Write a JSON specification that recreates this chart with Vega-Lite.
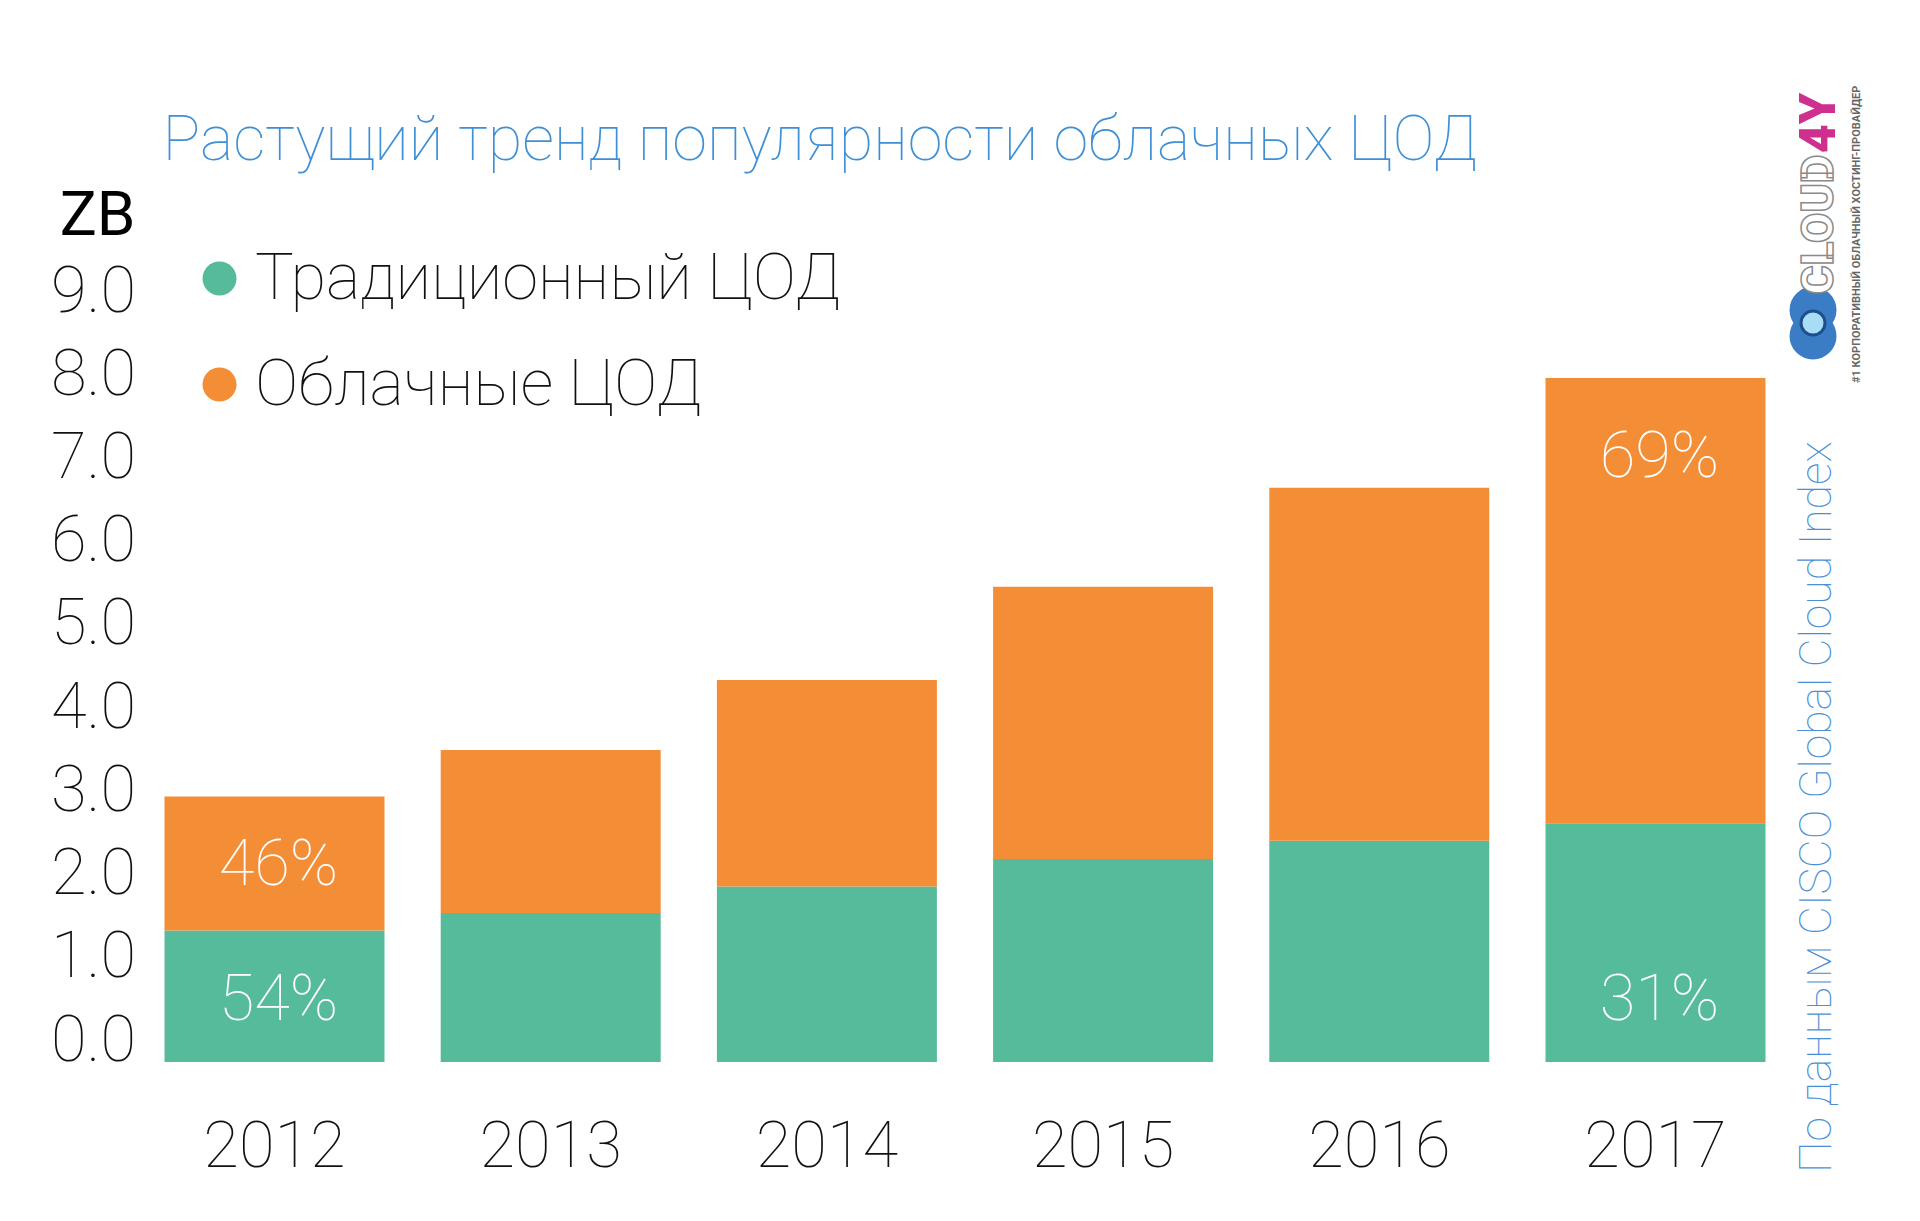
{
  "$schema": "https://vega.github.io/schema/vega-lite/v6.json",
  "width": 1601,
  "height": 749,
  "autosize": {"type": "none"},
  "padding": {"left": 164.5, "top": 313, "right": 154.5, "bottom": 159},
  "background": "white",
  "title": {
    "text": "Растущий тренд популярности облачных ЦОД",
    "anchor": "start",
    "frame": "group",
    "font": "Roboto",
    "fontSize": 63,
    "fontWeight": 100,
    "color": "#3f8fd6",
    "baseline": "alphabetic",
    "offset": 25,
    "dy": 162,
    "dx": -2
  },
  "config": {
    "view": {"stroke": null},
    "font": "Roboto",
    "axisY": {
      "labelFont": "Roboto",
      "labelFontSize": 65,
      "labelFontWeight": 100,
      "labelColor": "#111111",
      "labelPadding": 29,
      "labelOffset": -22,
      "ticks": false,
      "tickSize": 0,
      "domain": false,
      "grid": false,
      "titleAngle": 0,
      "titleFont": "Roboto",
      "titleFontSize": 62,
      "titleFontWeight": 400,
      "titleColor": "#000000",
      "titleAlign": "right",
      "titleBaseline": "alphabetic",
      "titleX": -29.5,
      "titleY": -79
    },
    "axisX": {
      "labelFont": "Roboto",
      "labelFontSize": 65,
      "labelFontWeight": 100,
      "labelColor": "#111111",
      "labelPadding": 53,
      "labelAngle": 0,
      "ticks": false,
      "tickSize": 0,
      "domain": false,
      "grid": false
    },
    "legend": {
      "orient": "none",
      "legendX": 22.5,
      "legendY": -67,
      "symbolType": "circle",
      "symbolSize": 1156,
      "symbolStrokeWidth": 0,
      "symbolOpacity": 1,
      "labelFont": "Roboto",
      "labelFontSize": 65,
      "labelFontWeight": 100,
      "labelColor": "#111111",
      "labelOffset": 3,
      "labelLimit": 1000,
      "rowPadding": 40,
      "padding": 0
    }
  },
  "datasets": {
    "bars": [
      {"year": "2012", "series": "Традиционный ЦОД", "zb": 1.58},
      {"year": "2012", "series": "Облачные ЦОД", "zb": 1.61},
      {"year": "2013", "series": "Традиционный ЦОД", "zb": 1.79},
      {"year": "2013", "series": "Облачные ЦОД", "zb": 1.96},
      {"year": "2014", "series": "Традиционный ЦОД", "zb": 2.11},
      {"year": "2014", "series": "Облачные ЦОД", "zb": 2.48},
      {"year": "2015", "series": "Традиционный ЦОД", "zb": 2.44},
      {"year": "2015", "series": "Облачные ЦОД", "zb": 3.27},
      {"year": "2016", "series": "Традиционный ЦОД", "zb": 2.66},
      {"year": "2016", "series": "Облачные ЦОД", "zb": 4.24},
      {"year": "2017", "series": "Традиционный ЦОД", "zb": 2.87},
      {"year": "2017", "series": "Облачные ЦОД", "zb": 5.35}
    ],
    "pct": [
      {"year": "2012", "label": "46%", "pos": 2.37},
      {"year": "2012", "label": "54%", "pos": 0.745},
      {"year": "2017", "label": "69%", "pos": 7.27},
      {"year": "2017", "label": "31%", "pos": 0.74}
    ],
    "source": [{"text": "По данным CISCO Global Cloud Index"}],
    "logo": [{"a": "CLOUD", "b": "4Y", "c": "#1 КОРПОРАТИВНЫЙ ОБЛАЧНЫЙ ХОСТИНГ-ПРОВАЙДЕР"}]
  },
  "layer": [
    {
      "data": {"name": "bars"},
      "mark": {"type": "bar"},
      "encoding": {
        "x": {
          "field": "year",
          "type": "nominal",
          "title": null,
          "scale": {"paddingInner": 0.2035, "paddingOuter": 0}
        },
        "y": {
          "field": "zb",
          "type": "quantitative",
          "stack": "zero",
          "title": "ZB",
          "scale": {"domain": [0, 9], "nice": false, "zero": true},
          "axis": {"values": [0, 1, 2, 3, 4, 5, 6, 7, 8, 9], "format": ".1f"}
        },
        "color": {
          "field": "series",
          "type": "nominal",
          "scale": {
            "domain": ["Традиционный ЦОД", "Облачные ЦОД"],
            "range": ["#55bb9b", "#f48e36"]
          },
          "legend": {"title": null}
        },
        "order": {"field": "series", "sort": "descending"}
      }
    },
    {
      "data": {"name": "pct"},
      "mark": {"type": "text", "color": "#ffffff", "font": "Roboto", "fontSize": 65, "fontWeight": 100, "baseline": "middle", "align": "center", "dx": 4},
      "encoding": {
        "x": {"field": "year", "type": "nominal", "title": null},
        "y": {"field": "pos", "type": "quantitative", "title": "ZB"},
        "text": {"field": "label"}
      }
    },
    {
      "data": {"name": "source"},
      "mark": {"type": "text", "color": "#4a90d6", "font": "Roboto", "fontSize": 44.5, "fontWeight": 100, "angle": 270, "align": "left", "baseline": "middle"},
      "encoding": {
        "x": {"datum": "2017", "type": "nominal", "bandPosition": 1.239, "title": null},
        "y": {"datum": -1.33, "type": "quantitative", "title": "ZB"},
        "text": {"field": "text"}
      }
    },
    {
      "data": {"name": "logo"},
      "mark": {"type": "point", "shape": "circle", "filled": true, "color": "#3b7dc4", "opacity": 1, "size": 2209},
      "encoding": {
        "x": {"datum": "2017", "type": "nominal", "bandPosition": 1.216, "title": null},
        "y": {"datum": 9.036, "type": "quantitative", "title": "ZB"}
      }
    },
    {
      "data": {"name": "logo"},
      "mark": {"type": "point", "shape": "circle", "filled": true, "color": "#3b7dc4", "opacity": 1, "size": 2209},
      "encoding": {
        "x": {"datum": "2017", "type": "nominal", "bandPosition": 1.216, "title": null},
        "y": {"datum": 8.724, "type": "quantitative", "title": "ZB"}
      }
    },
    {
      "data": {"name": "logo"},
      "mark": {"type": "point", "shape": "circle", "filled": true, "fill": "#a9dcf5", "stroke": "#1d4f8c", "strokeWidth": 3, "opacity": 1, "size": 576},
      "encoding": {
        "x": {"datum": "2017", "type": "nominal", "bandPosition": 1.216, "title": null},
        "y": {"datum": 8.88, "type": "quantitative", "title": "ZB"}
      }
    },
    {
      "data": {"name": "logo"},
      "mark": {"type": "text", "fill": "#ffffff", "stroke": "#8a8a8a", "strokeWidth": 1.5, "font": "Roboto", "fontSize": 44, "fontWeight": 900, "angle": 270, "align": "right", "baseline": "middle"},
      "encoding": {
        "x": {"datum": "2017", "type": "nominal", "bandPosition": 1.248, "title": null},
        "y": {"datum": 10.9, "type": "quantitative", "title": "ZB"},
        "text": {"field": "a"}
      }
    },
    {
      "data": {"name": "logo"},
      "mark": {"type": "text", "color": "#cf2f8f", "font": "Roboto", "fontSize": 50, "fontWeight": 900, "angle": 270, "align": "left", "baseline": "middle"},
      "encoding": {
        "x": {"datum": "2017", "type": "nominal", "bandPosition": 1.248, "title": null},
        "y": {"datum": 10.92, "type": "quantitative", "title": "ZB"},
        "text": {"field": "b"}
      }
    },
    {
      "data": {"name": "logo"},
      "mark": {"type": "text", "color": "#666666", "font": "Roboto", "fontSize": 11, "fontWeight": 700, "angle": 270, "align": "left", "baseline": "middle"},
      "encoding": {
        "x": {"datum": "2017", "type": "nominal", "bandPosition": 1.416, "title": null},
        "y": {"datum": 8.159, "type": "quantitative", "title": "ZB"},
        "text": {"field": "c"}
      }
    }
  ]
}
